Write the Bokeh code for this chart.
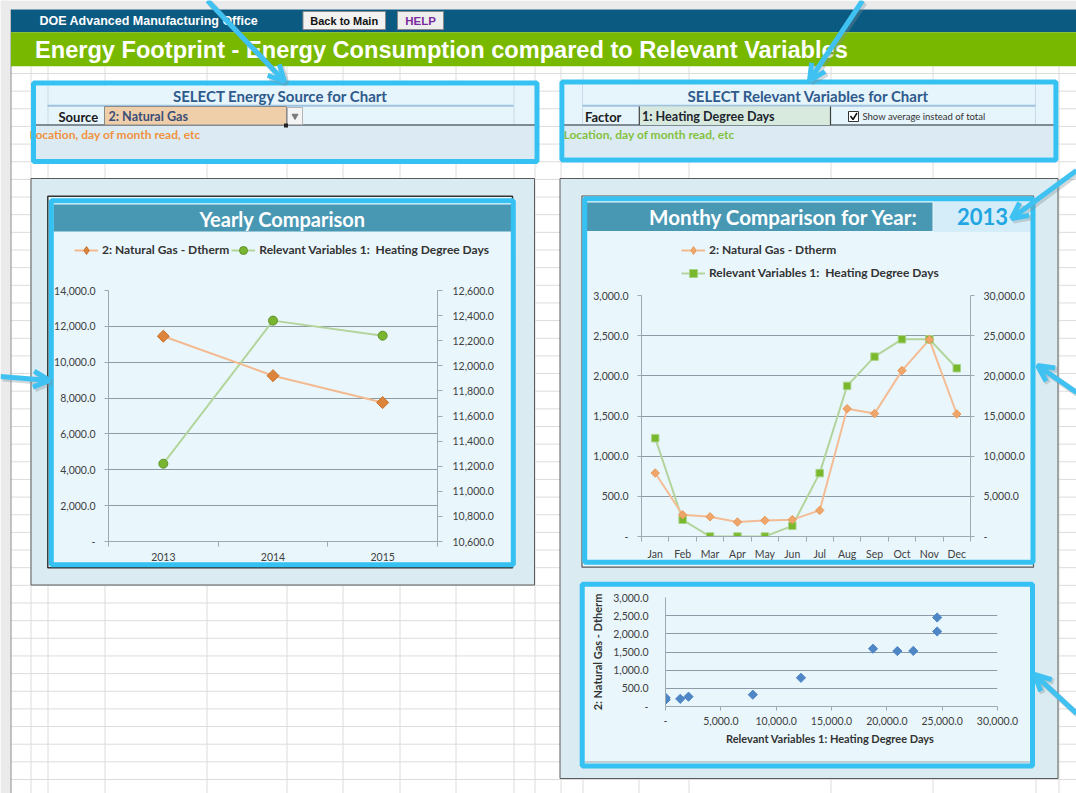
import math
import numpy as np
from bokeh.plotting import figure
from bokeh.models import (Range1d, LinearAxis, FixedTicker, SingleIntervalTicker,
                          NumeralTickFormatter, Legend, LegendItem, GridBox, Arrow, OpenHead)
from bokeh.core.properties import value
from bokeh.embed import file_html
from bokeh.resources import INLINE

# ---------------- data ----------------
years = ["2013", "2014", "2015"]
ng_yearly = [11450, 9250, 7750]
hdd_yearly = [11220, 12360, 12240]
months = ["Jan", "Feb", "Mar", "Apr", "May", "Jun", "Jul", "Aug", "Sep", "Oct", "Nov", "Dec"]
ng_monthly = [790, 270, 245, 180, 200, 210, 325, 1590, 1530, 2065, 2450, 1525]
hdd_monthly = [12240, 2080, 0, 0, 0, 1330, 7890, 18750, 22390, 24550, 24550, 20950]
ng_label = "2: Natural Gas - Dtherm"
hdd_label = "Relevant Variables 1:  Heating Degree Days"
selected_year = "2013"
source_choice = "2: Natural Gas"
factor_choice = "1: Heating Degree Days"

FONT = "Lato"
HFONT = "Liberation Sans"
CYAN = "#35c1f2"
AXC = "#9eaab3"
GRIDC = "#8c9ba5"
OR_LINE, OR_MK, OR_MK2 = "#f3b98f", "#dc843c", "#eea66b"
GR_LINE, GR_MK = "#b3d59c", "#7ab532"

W, H = 1076, 793

# ---------------- background (sheet + decorations) ----------------
bg = figure(width=W, height=H, title=None, x_range=Range1d(0, W), y_range=Range1d(H, 0),
            output_backend="svg", toolbar_location=None, min_border=0,
            x_axis_location=None, y_axis_location=None, outline_line_color=None,
            background_fill_color="white", border_fill_color="white")
bg.grid.visible = False


def rect(l, r, t, b, fill=None, line=None, lw=1.0, alpha=1.0):
    bg.quad(left=[l], right=[r], top=[t], bottom=[b], fill_color=fill, fill_alpha=alpha,
            line_color=line, line_width=lw)


def seg(x0, y0, x1, y1, color, lw=1.0):
    bg.segment(x0=[x0], y0=[y0], x1=[x1], y1=[y1], line_color=color, line_width=lw)


def txt(x, y, s, size, color, align="left", bold=True, font=FONT):
    bg.text(x=[x], y=[y], text=[s], text_font=value(font), text_font_size=value(f"{size}px"),
            text_font_style="bold" if bold else "normal", text_color=color,
            text_align=align, text_baseline="middle")


# sheet grid
sheet_cols = [30, 47, 104, 206, 286, 342, 399, 455, 513, 534, 560, 582, 638, 688, 830, 932, 1035, 1058]
for cx in sheet_cols:
    seg(cx + 0.5, 66, cx + 0.5, H, "#dcdcdc")
k = 0
while 779 - 17.65 * k > 66:
    yy = 779 - 17.65 * k
    seg(10, yy, W, yy, "#dcdcdc")
    k += 1

rect(0, 10.3, 0, H, fill="#ebebeb")
rect(0, W, 0, 9, fill="#ebebeb")
seg(10.5, 9, 10.5, H, "#8c8c8c")

# header bands
rect(10.5, W, 9, 31.7, fill="#0b5a81")
rect(10.5, W, 31.7, 65.7, fill="#78b900")
txt(39, 20.5, "DOE Advanced Manufacturing Office", 12.5, "white", font=HFONT)
rect(302.5, 385, 11, 29, fill="#f2f2f2", line="#8a8a8a")
txt(343.7, 20.5, "Back to Main", 11, "#111111", align="center", font=HFONT)
rect(397, 443, 11, 29, fill="#eeeeee", line="#8a8a8a")
txt(420, 20.5, "HELP", 11.5, "#7b2ba0", align="center", font=HFONT)
txt(34.5, 49.5, "Energy Footprint - Energy Consumption compared to Relevant Variables", 23.6, "white", font=HFONT)

# ---- left select box ----
rect(35.5, 534, 85, 124, fill="#e6f4fb")
rect(35.5, 534, 124, 158.5, fill="#dcebf3")
seg(47.5, 85, 47.5, 124, "#c7dce8")
seg(513.5, 85, 513.5, 124, "#c7dce8")
seg(47, 105.3, 513, 105.3, "#9fc2de", 2)
seg(33, 124.5, 536, 124.5, "#5f6a70", 1.5)
txt(280, 95, "SELECT Energy Source for Chart", 15, "#2f5a8c", align="center")
txt(58, 116, "Source", 13, "#1a1a1a")
rect(104, 286, 106, 124.5, fill="#efcfa9", line="#8a8a8a")
txt(108, 116, source_choice, 12.6, "#3b4e78")
rect(287, 302, 107, 124, fill="#f4f4f4", line="#b5b5b5")
bg.scatter(x=[294.5], y=[115.5], marker="inverted_triangle", size=6, color="#7a7a7a")
rect(283.5, 287.5, 123, 127, fill="#222222")
txt(29, 134, "Location, day of month read, etc", 12, "#f0923f")
rect(33, 536.5, 82.5, 161, line=CYAN, lw=5)

# ---- right select box ----
rect(564, 1053, 84, 124, fill="#e6f4fb")
rect(564, 1053, 124, 157, fill="#dcebf3")
seg(582, 84, 582, 124, "#c7dce8")
seg(1035, 84, 1035, 124, "#c7dce8")
seg(582, 105.3, 1035, 105.3, "#9fc2de", 2)
seg(561, 124.5, 1055, 124.5, "#5f6a70", 1.5)
txt(808, 95, "SELECT Relevant Variables for Chart", 15, "#2f5a8c", align="center")
txt(584.5, 116, "Factor", 13, "#1a1a1a")
rect(638.8, 830, 106, 124.5, fill="#d8eadd")
seg(638.8, 106, 638.8, 124.5, "#404040", 1.2)
seg(830, 106, 830, 124.5, "#404040", 1.2)
txt(641.5, 116, factor_choice, 12.6, "#1e2530")
rect(848, 858, 111, 121, fill="white", line="#333333")
bg.line(x=[850, 852.5, 856.5], y=[115.5, 119, 112.5], line_color="#111111", line_width=1.5)
txt(862, 116, "Show average instead of total", 9.5, "#333333", bold=False)
txt(563, 134, "Location, day of month read, etc", 12, "#84c141")
rect(561.4, 1055.4, 81.5, 159.5, line=CYAN, lw=5)

# ---- big panels ----
rect(30.5, 534, 178, 584.5, fill="#dbebf2", line="#5a5a5a")
rect(559.5, 1057.5, 178, 778, fill="#dbebf2", line="#5a5a5a")

# ---- yearly chart box ----
rect(47.3, 512, 195.7, 567.3, fill="#e9f7fd", line="#333333", lw=1.5)
rect(53, 511, 204, 231, fill="#4898b4")
txt(282, 218, "Yearly Comparison", 20, "white", align="center")
rect(50.8, 512.8, 200.2, 564.2, line=CYAN, lw=5)

# ---- monthly chart box ----
rect(581.5, 1033, 195.5, 566.7, fill="#e9f7fd", line="#555555", lw=1.2)
rect(586, 1030, 202, 230.5, fill="#4898b4")
rect(932.5, 1031, 198, 232, fill="#d5edf8", line="#e6f5fc")
txt(918, 216, "Monthy Comparison for Year:", 20.6, "white", align="right")
txt(982, 216, selected_year, 22, "#21a6e3", align="center")
rect(584.2, 1032.5, 198.3, 561.8, line=CYAN, lw=5)

# ---- scatter chart box ----
rect(584, 1030, 586, 763, fill="#e9f7fd")
seg(584, 761.5, 1030, 761.5, "#9aa5ab", 1.2)
rect(581.7, 1032, 583.8, 765.5, line=CYAN, lw=5)


# ---- chart legends (drawn on the background layer, proxy renderers draw nothing) ----
def bg_legend(spec, orientation, left, top, spacing):
    items = []
    nan = np.array([np.nan])
    for label, lc, mk, mfill, mline in spec:
        r1 = bg.line(x=nan, y=nan, line_color=lc, line_width=2)
        r2 = bg.scatter(x=nan, y=nan, marker=mk, fill_color=mfill, line_color=mline)
        items.append(LegendItem(label=label, renderers=[r1, r2]))
    n = len(items)
    h = 20 if orientation == "horizontal" else n * 20 + (n - 1) * spacing
    bg.add_layout(Legend(items=items, orientation=orientation, location=(left, H - top - h),
                         label_text_font=FONT, label_text_font_size="12px",
                         label_text_font_style="bold", label_text_color="#333333",
                         glyph_width=24, glyph_height=20, label_height=20, label_standoff=4,
                         spacing=spacing, padding=0, margin=0,
                         background_fill_alpha=0, border_line_color=None))


bg_legend([(ng_label, OR_LINE, "diamond", OR_MK, "#c8702a"),
           (hdd_label, GR_LINE, "circle", GR_MK, "#5e9227")], "horizontal", 74, 239.7, 2)
bg_legend([(ng_label, OR_LINE, "diamond", OR_MK2, "#e99a5a"),
           (hdd_label, GR_LINE, "square", "#79b82c", "#a9d38a")], "vertical", 681, 239.7, 3)

# ---- annotation arrows ----
arrows = [(207, 0, 284, 81), (862, 0, 809, 80), (1076, 170, 1011, 218),
          (1076, 392, 1037, 365), (1076, 713, 1034, 674), (0, 376, 49, 380)]
for (x0, y0, x1, y1) in arrows:
    bg.add_layout(Arrow(x_start=x0 + 2, y_start=y0 + 2, x_end=x1 + 2, y_end=y1 + 2,
                        line_color="#7f8f99", line_alpha=0.35, line_width=6,
                        end=OpenHead(size=16, line_color="#7f8f99", line_alpha=0.35, line_width=6)))
    bg.add_layout(Arrow(x_start=x0, y_start=y0, x_end=x1, y_end=y1,
                        line_color="#3fc2f2", line_width=5,
                        end=OpenHead(size=16, line_color="#3fc2f2", line_width=5)))


# ---------------- chart helpers ----------------
def style_axis(ax, tick_out=4, standoff=9):
    ax.axis_line_color = AXC
    ax.major_tick_line_color = AXC
    ax.minor_tick_line_color = None
    ax.major_tick_out = tick_out
    ax.major_tick_in = 0
    ax.major_label_standoff = standoff
    ax.major_label_text_font = FONT
    ax.major_label_text_font_size = "10.5px"
    ax.major_label_text_color = "#404040"


def cat_axis(ax, n, labels, standoff):
    pos = [i + 0.5 for i in range(n)]
    ax.ticker = FixedTicker(ticks=pos, minor_ticks=list(range(n + 1)))
    ax.major_label_overrides = {p_: l_ for p_, l_ in zip(pos, labels)}
    style_axis(ax, tick_out=0, standoff=standoff)
    ax.major_tick_line_color = None
    ax.minor_tick_line_color = AXC
    ax.minor_tick_out = 5
    ax.minor_tick_in = 0
    return pos


common = dict(output_backend="svg", toolbar_location=None, title=None,
              background_fill_alpha=0, border_fill_alpha=0, outline_line_color=None)

# ---------------- yearly comparison (cell 48..516 x 200..576) ----------------
yr = figure(width=468, height=376, x_range=Range1d(0, len(years)), y_range=Range1d(0, 14000),
            min_border_left=60, min_border_right=79, min_border_top=90, min_border_bottom=35, **common)
yr.extra_y_ranges = {"hdd": Range1d(10600, 12600)}
xs_y = cat_axis(yr.xaxis[0], len(years), years, 6)
ya = yr.yaxis[0]
ya.ticker = SingleIntervalTicker(interval=2000)
ya.formatter = NumeralTickFormatter(format="0,0.0")
ya.major_label_overrides = {0: "-"}
style_axis(ya)
ry = LinearAxis(y_range_name="hdd", ticker=SingleIntervalTicker(interval=200),
                formatter=NumeralTickFormatter(format="0,0.0"))
style_axis(ry, tick_out=5, standoff=10)
yr.add_layout(ry, "right")
yr.xgrid.visible = False
yr.ygrid.grid_line_color = GRIDC

yr.line(xs_y, hdd_yearly, y_range_name="hdd", line_color=GR_LINE, line_width=2)
yr.line(xs_y, ng_yearly, line_color=OR_LINE, line_width=2)
yr.scatter(xs_y, hdd_yearly, y_range_name="hdd", marker="circle", size=9,
           fill_color=GR_MK, line_color="#5e9227")
yr.scatter(xs_y, ng_yearly, marker="square", angle=math.pi / 4, size=8.5,
           fill_color=OR_MK, line_color="#c8702a")

# ---------------- monthly comparison (cell 580..1035 x 195..581) ----------------
mo = figure(width=455, height=386, x_range=Range1d(0, len(months)), y_range=Range1d(0, 3000),
            min_border_left=61, min_border_right=65, min_border_top=100, min_border_bottom=45, **common)
mo.extra_y_ranges = {"hdd": Range1d(0, 30000)}
xs_m = cat_axis(mo.xaxis[0], len(months), months, 6)
ma = mo.yaxis[0]
ma.ticker = SingleIntervalTicker(interval=500)
ma.formatter = NumeralTickFormatter(format="0,0.0")
ma.major_label_overrides = {0: "-"}
style_axis(ma)
mr = LinearAxis(y_range_name="hdd", ticker=SingleIntervalTicker(interval=5000),
                formatter=NumeralTickFormatter(format="0,0.0"))
mr.major_label_overrides = {0: "-"}
style_axis(mr, tick_out=4, standoff=9)
mo.add_layout(mr, "right")
mo.xgrid.visible = False
mo.ygrid.grid_line_color = GRIDC

mo.line(xs_m, hdd_monthly, y_range_name="hdd", line_color=GR_LINE, line_width=2)
mo.line(xs_m, ng_monthly, line_color="#f3bc94", line_width=2)
mo.scatter(xs_m, hdd_monthly, y_range_name="hdd", marker="square", size=7.5,
           fill_color="#79b82c", line_color="#a9d38a")
mo.scatter(xs_m, ng_monthly, marker="square", angle=math.pi / 4, size=6,
           fill_color=OR_MK2, line_color="#e99a5a")

# ---------------- scatter (cell 587..1050 x 580..768) ----------------
sc = figure(width=463, height=188, x_range=Range1d(0, 30000), y_range=Range1d(0, 3000),
            min_border_left=78, min_border_right=53, min_border_top=17, min_border_bottom=62, **common)
sx = sc.xaxis[0]
sx.ticker = SingleIntervalTicker(interval=5000)
sx.formatter = NumeralTickFormatter(format="0,0.0")
sx.major_label_overrides = {0: "-"}
style_axis(sx, tick_out=4, standoff=6)
sy = sc.yaxis[0]
sy.ticker = SingleIntervalTicker(interval=500)
sy.formatter = NumeralTickFormatter(format="0,0.0")
sy.major_label_overrides = {0: "-"}
style_axis(sy, tick_out=0, standoff=13)
for ax, lab in ((sx, hdd_label), (sy, ng_label)):
    ax.axis_label = lab
    ax.axis_label_text_font = FONT
    ax.axis_label_text_font_size = "11px"
    ax.axis_label_text_font_style = "bold"
    ax.axis_label_text_color = "#333333"
sx.axis_label_standoff = 4
sy.axis_label_standoff = 6
sc.xgrid.visible = False
sc.ygrid.grid_line_color = GRIDC
sc.scatter(hdd_monthly, ng_monthly, marker="square", angle=math.pi / 4, size=6.5,
           fill_color="#4f86c6", line_color="#4f86c6")

# ---------------- layout ----------------
# column lines: 0, 48, 516, 580, 587, 1035, 1050, 1076
# row lines:    0, 195, 200, 576, 580, 581, 768, 793
layout = GridBox(children=[(bg, 0, 0, 7, 7), (yr, 2, 1, 1, 1), (mo, 1, 3, 4, 2), (sc, 4, 4, 2, 2)],
                 rows=["195px", "5px", "376px", "4px", "1px", "187px", "25px"],
                 cols=["48px", "468px", "64px", "7px", "448px", "15px", "26px"], spacing=0)

open("out.html", "w").write(file_html(layout, INLINE))
